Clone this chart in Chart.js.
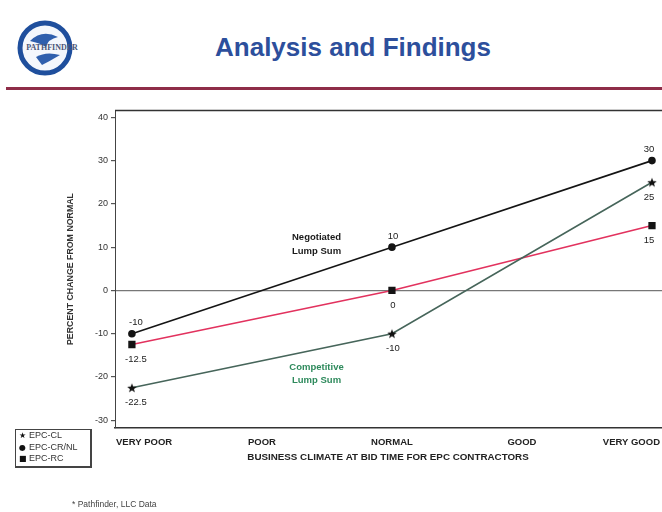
<!DOCTYPE html>
<html>
<head>
<meta charset="utf-8">
<script src="https://cdn.jsdelivr.net/npm/chart.js@4.4.1/dist/chart.umd.min.js"></script>
<style>
  html, body { margin: 0; padding: 0; background: #fff; overflow: hidden; }
  body { width: 662px; height: 512px; position: relative; font-family: "Liberation Sans", Arial, sans-serif; }
  #chart { position: absolute; left: 0; top: 0; }
  .title { position: absolute; left: 148px; width: 410px; top: 32px; text-align: center;
           font: bold 26px "Liberation Sans", Arial, sans-serif; color: #2d4f9c; }
  .rule { position: absolute; left: 6px; right: 0; top: 87px; height: 3px; background: #8e2d48; }
  .logo { position: absolute; left: 12px; top: 17px; }
  .legend { position: absolute; left: 15px; top: 429px; width: 74px; height: 36px;
            border: 1px solid #444; border-right-width: 2px; border-bottom-width: 2px;
            font: 9px "Liberation Sans Narrow", "Liberation Sans", Arial, sans-serif; color: #333; }
  .legend div { height: 11.5px; line-height: 11.5px; padding-left: 3px; white-space: nowrap; }
  .legend span { display: inline-block; width: 10px; color: #111; font-family: "DejaVu Sans", sans-serif; font-size: 8px; }
  .note { position: absolute; left: 72px; top: 499px; font: 8.5px "Liberation Sans", Arial, sans-serif; color: #444; }
</style>
</head>
<body>
<svg class="logo" width="80" height="62" viewBox="0 0 80 62">
  <circle cx="33" cy="31" r="25" fill="#f4f7fc" stroke="#1f4f9d" stroke-width="5"/>
  <path d="M18 24 Q30 12 46 20 Q36 22 34 30 Q28 26 18 24 Z" fill="#2f5fad"/>
  <path d="M24 40 Q34 34 48 38 Q38 44 30 48 Z" fill="#2f5fad"/>
  <text x="40" y="33" text-anchor="middle" font-family="Liberation Serif, serif" font-size="8" font-weight="bold" fill="#4a5578">PATHFINDER</text>
</svg>
<div class="title">Analysis and Findings</div>
<div class="rule"></div>
<canvas id="chart" width="662" height="512"></canvas>
<div class="legend">
  <div><span>★</span>EPC-CL</div>
  <div><span>●</span>EPC-CR/NL</div>
  <div><span>■</span>EPC-RC</div>
</div>
<div class="note">* Pathfinder, LLC Data</div>

<script>
// Business-climate categories along the x axis
const climateLabels = ['VERY POOR', 'POOR', 'NORMAL', 'GOOD', 'VERY GOOD'];
// Category indices where each series was measured
const measuredAt = [0, 2, 4];
// Percent change from normal, per contracting type
const epcCL   = [-22.5, -10, 25];   // Competitive Lump Sum
const epcCRNL = [-10, 10, 30];      // Negotiated Lump Sum
const epcRC   = [-12.5, 0, 15];     // Reimbursable
// Value-axis range and step
const yMin = -31.8, yMax = 41.7, yStep = 10;

const toPoints = vals => vals.map((v, i) => ({ x: measuredAt[i], y: v }));

// Filled five-point star used as the EPC-CL marker
function makeStar(r) {
  const c = document.createElement('canvas');
  const s = Math.ceil(r * 2 + 2);
  c.width = s; c.height = s;
  const g = c.getContext('2d');
  g.translate(s / 2, s / 2 + 0.5);
  g.beginPath();
  for (let i = 0; i < 10; i++) {
    const rad = i % 2 === 0 ? r : r * 0.42;
    const a = -Math.PI / 2 + i * Math.PI / 5;
    g.lineTo(Math.cos(a) * rad, Math.sin(a) * rad);
  }
  g.closePath();
  g.fillStyle = '#111';
  g.fill();
  return c;
}

// Value labels: which side of the point each series' labels sit
const labelSide = { 0: 'below', 1: 'above', 2: 'below' };

const pointLabels = {
  id: 'pointLabels',
  afterDatasetsDraw(chart) {
    const ctx = chart.ctx;
    ctx.save();
    ctx.font = '9.5px "Liberation Sans", Arial, sans-serif';
    ctx.fillStyle = '#222';
    ctx.textAlign = 'center';
    ctx.textBaseline = 'middle';
    chart.data.datasets.forEach((ds, di) => {
      const meta = chart.getDatasetMeta(di);
      meta.data.forEach((pt, i) => {
        const v = ds.data[i].y;
        const dy = labelSide[di] === 'above' ? -11 : 15;
        const dx = i === 0 ? 4 : (i === ds.data.length - 1 ? -3 : 1);
        ctx.fillText(String(v), pt.x + dx, pt.y + dy);
      });
    });
    ctx.restore();
  }
};

// Category names under the x axis, series captions, and the top frame line
const decorations = {
  id: 'decorations',
  afterDraw(chart) {
    const ctx = chart.ctx;
    const a = chart.chartArea;
    const xs = chart.scales.x;
    ctx.save();
    // top frame
    ctx.strokeStyle = '#333';
    ctx.lineWidth = 1.5;
    ctx.beginPath();
    ctx.moveTo(a.left, a.top + 0.5);
    ctx.lineTo(a.right, a.top + 0.5);
    ctx.stroke();

    // category labels, kept inside the frame at both ends
    ctx.font = 'bold 9.5px "Liberation Sans", Arial, sans-serif';
    ctx.fillStyle = '#222';
    ctx.textBaseline = 'middle';
    ctx.textAlign = 'center';
    climateLabels.forEach((lab, i) => {
      const w = ctx.measureText(lab).width;
      let px = xs.getPixelForValue(i);
      px = Math.max(px, a.left + w / 2 + 1);
      px = Math.min(px, chart.width - w / 2 - 2);
      ctx.fillText(lab, px, a.bottom + 14);
    });
    // x axis title
    ctx.font = 'bold 9.8px "Liberation Sans", Arial, sans-serif';
    ctx.fillText('BUSINESS CLIMATE AT BID TIME FOR EPC CONTRACTORS', 388, a.bottom + 29);

    // series captions
    const ys = chart.scales.y;
    ctx.font = 'bold 9.5px "Liberation Sans", Arial, sans-serif';
    ctx.fillStyle = '#1a1a1a';
    const nx = xs.getPixelForValue(1.42);
    ctx.fillText('Negotiated', nx, ys.getPixelForValue(12.3));
    ctx.fillText('Lump Sum', nx, ys.getPixelForValue(9.1));
    ctx.fillStyle = '#2e8a5c';
    ctx.fillText('Competitive', nx, ys.getPixelForValue(-17.8));
    ctx.fillText('Lump Sum', nx, ys.getPixelForValue(-20.8));
    ctx.restore();
  }
};

new Chart(document.getElementById('chart'), {
  type: 'line',
  data: {
    datasets: [
      {
        label: 'EPC-CL',
        data: toPoints(epcCL),
        borderColor: '#46655a',
        borderWidth: 1.6,
        pointStyle: makeStar(5),
        pointRadius: 5
      },
      {
        label: 'EPC-CR/NL',
        data: toPoints(epcCRNL),
        borderColor: '#141414',
        borderWidth: 1.6,
        pointStyle: 'circle',
        pointRadius: 3,
        pointBackgroundColor: '#141414',
        pointBorderColor: '#141414'
      },
      {
        label: 'EPC-RC',
        data: toPoints(epcRC),
        borderColor: '#e2325e',
        borderWidth: 1.6,
        pointStyle: 'rect',
        pointRadius: 4,
        pointBackgroundColor: '#141414',
        pointBorderColor: '#141414'
      }
    ]
  },
  options: {
    responsive: false,
    animation: false,
    events: [],
    layout: { autoPadding: false, padding: { top: 110, right: 0, bottom: 0, left: 0 } },
    elements: { line: { tension: 0 } },
    plugins: { legend: { display: false }, tooltip: { enabled: false } },
    scales: {
      x: {
        type: 'linear',
        min: -0.13,
        max: 4.077,
        ticks: { display: false },
        grid: { display: false },
        border: { display: true, color: '#333', width: 1.5 },
        afterFit(scale) { scale.height = 84; }
      },
      y: {
        min: yMin,
        max: yMax,
        ticks: {
          stepSize: yStep,
          includeBounds: false,
          padding: 3,
          color: '#333',
          font: { size: 9, family: '"Liberation Sans", Arial, sans-serif' }
        },
        grid: {
          drawOnChartArea: true,
          tickLength: 4,
          color: c => (c.tick && c.tick.value === 0 ? '#777' : 'rgba(0,0,0,0)'),
          tickColor: '#555',
          lineWidth: 1.2
        },
        border: { display: true, color: '#444', width: 1 },
        title: {
          display: true,
          text: 'PERCENT CHANGE FROM NORMAL',
          color: '#333',
          font: { size: 8.8, weight: 'bold', family: '"Liberation Sans Narrow", "Liberation Sans", Arial, sans-serif' },
          padding: { top: 65, bottom: 0 }
        },
        afterFit(scale) { scale.width = 115; }
      }
    }
  },
  plugins: [pointLabels, decorations]
});
</script>
</body>
</html>
